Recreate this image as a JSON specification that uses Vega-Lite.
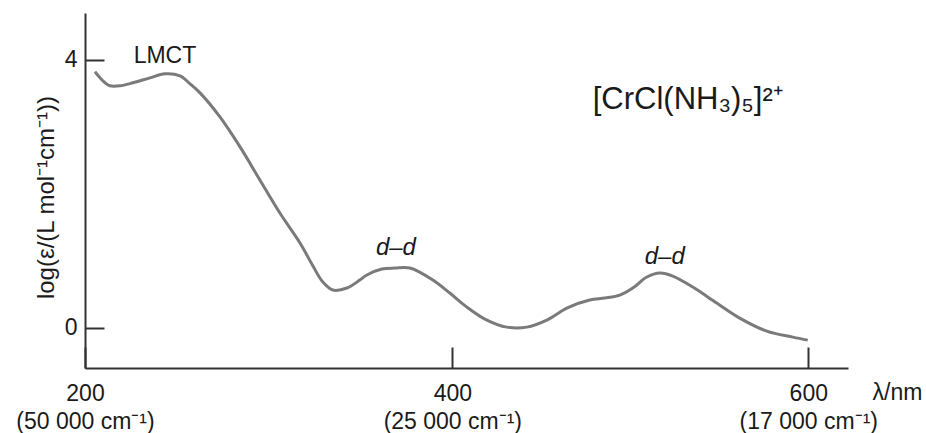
{
  "$schema": "https://vega.github.io/schema/vega-lite/v6.json",
  "width": 763,
  "height": 355,
  "autosize": {"type": "none"},
  "padding": {"left": 85, "top": 13, "right": 78, "bottom": 65},
  "background": "white",
  "config": {"view": {"stroke": null}, "font": "Liberation Sans"},
  "datasets": {
    "curve": [
      {"wl": 205.3, "loge": 3.822}, {"wl": 208.0, "loge": 3.732}, {"wl": 210.7, "loge": 3.658},
      {"wl": 213.3, "loge": 3.613}, {"wl": 218.7, "loge": 3.613}, {"wl": 225.6, "loge": 3.658},
      {"wl": 234.7, "loge": 3.732}, {"wl": 242.8, "loge": 3.792}, {"wl": 250.9, "loge": 3.762},
      {"wl": 256.3, "loge": 3.643}, {"wl": 261.7, "loge": 3.508}, {"wl": 272.5, "loge": 3.149},
      {"wl": 283.4, "loge": 2.701}, {"wl": 294.2, "loge": 2.208}, {"wl": 305.1, "loge": 1.715},
      {"wl": 316.1, "loge": 1.267}, {"wl": 323.2, "loge": 0.922}, {"wl": 328.6, "loge": 0.683},
      {"wl": 334.1, "loge": 0.564}, {"wl": 341.8, "loge": 0.594}, {"wl": 348.9, "loge": 0.713},
      {"wl": 352.8, "loge": 0.788},
      {"wl": 361.0, "loge": 0.877}, {"wl": 368.2, "loge": 0.892}, {"wl": 376.5, "loge": 0.892},
      {"wl": 389.2, "loge": 0.713}, {"wl": 398.6, "loge": 0.519}, {"wl": 408.1, "loge": 0.309},
      {"wl": 419.2, "loge": 0.115}, {"wl": 430.3, "loge": 0.010}, {"wl": 441.4, "loge": 0.010},
      {"wl": 452.6, "loge": 0.115}, {"wl": 463.8, "loge": 0.294}, {"wl": 476.6, "loge": 0.414},
      {"wl": 485.1, "loge": 0.444}, {"wl": 493.5, "loge": 0.489}, {"wl": 500.8, "loge": 0.593},
      {"wl": 508.7, "loge": 0.758}, {"wl": 516.0, "loge": 0.818}, {"wl": 523.3, "loge": 0.773},
      {"wl": 534.6, "loge": 0.608}, {"wl": 548.1, "loge": 0.369}, {"wl": 561.1, "loge": 0.145},
      {"wl": 576.4, "loge": -0.049}, {"wl": 591.2, "loge": -0.139}, {"wl": 599.7, "loge": -0.184}
    ],
    "plainlabels": [
      {"wl": 242.8, "loge": 3.96, "text": "LMCT"}
    ],
    "italiclabels": [
      {"wl": 368.8, "loge": 1.09, "text": "d–d"},
      {"wl": 518.8, "loge": 0.95, "text": "d–d"}
    ],
    "formula": [
      {"wl": 478.3, "loge": 3.27, "text": "[CrCl(NH₃)₅]²⁺"}
    ]
  },
  "layer": [
    {
      "data": {"name": "curve"},
      "mark": {"type": "line", "color": "#7a7a7a", "strokeWidth": 3, "interpolate": "catmull-rom"},
      "encoding": {
        "x": {
          "field": "wl", "type": "quantitative",
          "scale": {"type": "pow", "exponent": 0.94, "domain": [200, 622.6], "nice": false, "zero": false},
          "axis": {
            "values": [200, 400, 600],
            "labelExpr": "datum.value == 200 ? ['200', '(50 000 cm⁻¹)'] : datum.value == 400 ? ['400', '(25 000 cm⁻¹)'] : ['600', '(17 000 cm⁻¹)']",
            "labelFont": "Liberation Sans", "labelFontSize": 23, "labelColor": "#1a1a1a",
            "labelLineHeight": 28, "labelPadding": 35, "labelFlush": false, "labelOverlap": false,
            "tickSize": -21, "tickWidth": 2, "tickColor": "#333", "domainColor": "#333", "domainWidth": 2,
            "grid": false,
            "title": "λ/nm", "titleFont": "Liberation Sans", "titleFontSize": 23, "titleFontWeight": "normal",
            "titleColor": "#1a1a1a", "titleAlign": "left", "titleBaseline": "middle", "titleX": 787, "titleY": 24
          }
        },
        "y": {
          "field": "loge", "type": "quantitative",
          "scale": {"domain": [-0.6, 4.7], "nice": false, "zero": false},
          "axis": {
            "values": [0, 4], "format": "d",
            "labelFont": "Liberation Sans", "labelFontSize": 23, "labelColor": "#1a1a1a",
            "labelPadding": 27, "tickSize": -19, "tickWidth": 2, "tickColor": "#333",
            "domainColor": "#333", "domainWidth": 2, "grid": false,
            "title": "log(ε/(L mol⁻¹cm⁻¹))", "titleFont": "Liberation Sans", "titleFontSize": 24,
            "titleFontWeight": "normal", "titleColor": "#1a1a1a", "titleX": -39, "titleY": 184,
            "titleAlign": "center", "titleBaseline": "middle", "titleAngle": -90
          }
        }
      }
    },
    {
      "data": {"name": "plainlabels"},
      "mark": {"type": "text", "align": "center", "baseline": "alphabetic", "fontSize": 23, "color": "#1a1a1a", "font": "Liberation Sans"},
      "encoding": {
        "x": {"field": "wl", "type": "quantitative"},
        "y": {"field": "loge", "type": "quantitative"},
        "text": {"field": "text"}
      }
    },
    {
      "data": {"name": "italiclabels"},
      "mark": {"type": "text", "align": "center", "baseline": "alphabetic", "fontSize": 24, "fontStyle": "italic", "color": "#1a1a1a", "font": "Liberation Sans"},
      "encoding": {
        "x": {"field": "wl", "type": "quantitative"},
        "y": {"field": "loge", "type": "quantitative"},
        "text": {"field": "text"}
      }
    },
    {
      "data": {"name": "formula"},
      "mark": {"type": "text", "align": "left", "baseline": "alphabetic", "fontSize": 31, "color": "#1a1a1a", "font": "Liberation Sans"},
      "encoding": {
        "x": {"field": "wl", "type": "quantitative"},
        "y": {"field": "loge", "type": "quantitative"},
        "text": {"field": "text"}
      }
    }
  ]
}
